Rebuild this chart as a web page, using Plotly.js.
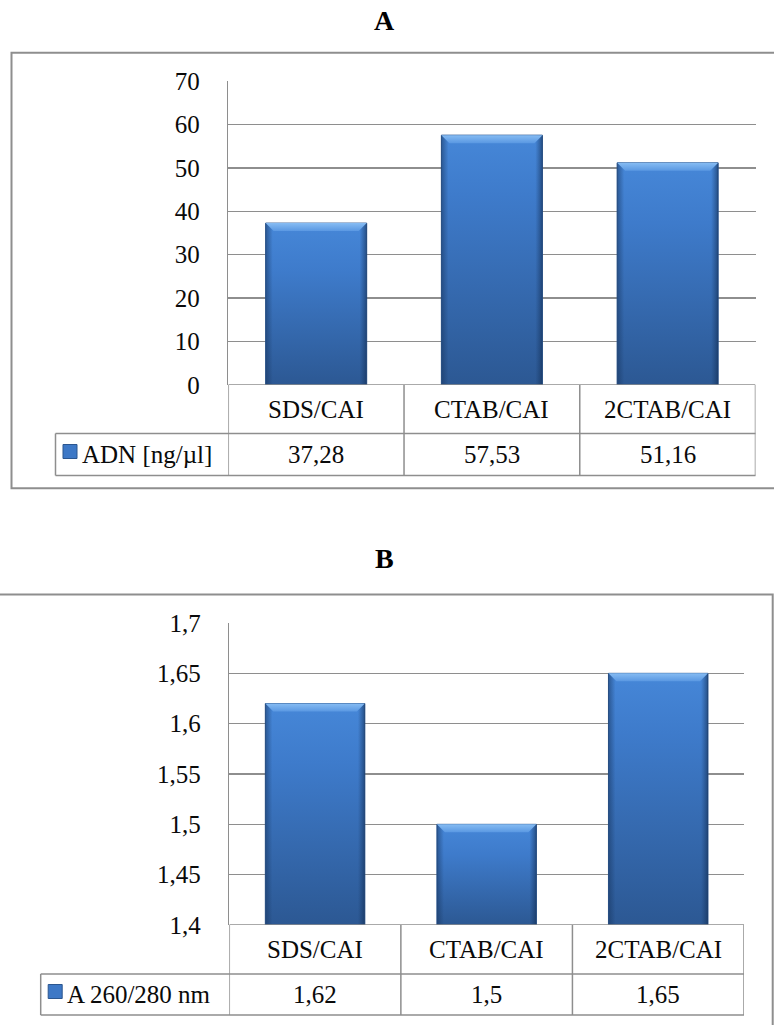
<!DOCTYPE html>
<html>
<head>
<meta charset="utf-8">
<script src="https://cdn.plot.ly/plotly-3.0.1.min.js"></script>
<style>
  html, body { margin: 0; padding: 0; background: #ffffff; }
  #chart { width: 774px; height: 1025px; }
</style>
</head>
<body>
<div id="chart"></div>
<script>
// DNA extraction comparison: yield (A) and purity ratio (B)
const categories = ['SDS/CAI', 'CTAB/CAI', '2CTAB/CAI'];
const dnaConcentration = [37.28, 57.53, 51.16];   // ng/µl
const purityRatio = [1.62, 1.5, 1.65];            // A260/A280
const seriesNameA = 'ADN [ng/µl]';
const seriesNameB = 'A 260/280 nm';
const panelTitles = ['A', 'B'];
const tickValsB = [1.4, 1.45, 1.5, 1.55, 1.6, 1.65, 1.7];
const tickTextB = ['1,4', '1,45', '1,5', '1,55', '1,6', '1,65', '1,7'];

const W = 774, H = 1025;
const X = p => p / W;          // pixel -> paper x
const Y = p => 1 - p / H;      // pixel -> paper y

const FONT = '"Liberation Serif", "Times New Roman", serif';
const INK = '#0a0a0a';
const GRID = '#8e8e8e';
const fmt = v => String(v).replace('.', ',');

// panel geometry (pixels)
const A = { left: 228.3, right: 755.5, top: 81, zero: 385, row: 433.5, bottom: 475.5, legendLeft: 55.5,
            frame: [11.5, 52.7, 790, 488.3], title: 20 };
const B = { left: 229.3, right: 744, top: 623, zero: 925, row: 974, bottom: 1015, legendLeft: 40.7,
            frame: [-10, 594.5, 772.7, 1040], title: 558 };

const barStyle = { color: '#3b74c2', line: { color: '#2b568f', width: 1 } };

const data = [
  { type: 'bar', x: categories, y: dnaConcentration, xaxis: 'x', yaxis: 'y', width: 0.575,
    name: seriesNameA, marker: barStyle, hoverinfo: 'skip', showlegend: false },
  { type: 'bar', x: categories, y: purityRatio, xaxis: 'x2', yaxis: 'y2', width: 0.58,
    name: seriesNameB, marker: barStyle, hoverinfo: 'skip', showlegend: false }
];

function yAxis(p, extra) {
  return Object.assign({
    domain: [Y(p.zero), Y(p.top)],
    showgrid: true, gridcolor: GRID, gridwidth: 1.5,
    zeroline: false, showline: true, linecolor: GRID, linewidth: 1.5,
    ticks: '', ticklabelstandoff: 22,
    tickfont: { family: FONT, size: 25, color: INK },
    fixedrange: true
  }, extra);
}
function xAxis(p, anchor) {
  return {
    domain: [X(p.left), X(p.right)], anchor: anchor, type: 'category',
    range: [-0.5, 2.5], showticklabels: false, showgrid: false,
    zeroline: false, showline: false, ticks: '', fixedrange: true
  };
}

const line = (xref, yref, x0, y0, x1, y1, w) => ({
  type: 'line', xref, yref, x0, y0, x1, y1, layer: 'above',
  line: { color: GRID, width: w || 1.5 }
});

const shapes = [];
const annotations = [];

function panel(p, xref, yref, yMin, values, seriesName) {
  // outer frame
  shapes.push({ type: 'rect', xref: 'paper', yref: 'paper',
    x0: X(p.frame[0]), x1: X(p.frame[2]), y0: Y(p.frame[3]), y1: Y(p.frame[1]),
    line: { color: GRID, width: 2 }, layer: 'below' });
  // data table grid
  shapes.push(line(xref, yref, -0.5, yMin, 2.5, yMin));
  for (let i = 0; i <= categories.length; i++) {
    shapes.push(line(xref, 'paper', i - 0.5, Y(p.zero), i - 0.5, Y(p.bottom)));
  }
  shapes.push(line('paper', 'paper', X(p.legendLeft), Y(p.row), X(p.right), Y(p.row)));
  shapes.push(line('paper', 'paper', X(p.legendLeft), Y(p.bottom), X(p.right), Y(p.bottom)));
  shapes.push(line('paper', 'paper', X(p.legendLeft), Y(p.row), X(p.legendLeft), Y(p.bottom)));
  // legend key swatch
  const mid = (p.row + p.bottom) / 2;
  const sx = p.legendLeft + 7.5;
  shapes.push({ type: 'rect', xref: 'paper', yref: 'paper',
    x0: X(sx), x1: X(sx + 14), y0: Y(mid + 4), y1: Y(mid - 10),
    fillcolor: '#3d78c6', line: { color: '#2b568f', width: 1 }, layer: 'above' });

  const rowMid = (p.zero + p.row) / 2;
  categories.forEach((c, i) => {
    annotations.push({ xref, yref: 'paper', x: c, y: Y(rowMid), text: c, showarrow: false,
      xanchor: 'center', yanchor: 'middle', font: { family: FONT, size: 25, color: INK } });
    annotations.push({ xref, yref: 'paper', x: c, y: Y(mid), text: fmt(values[i]), showarrow: false,
      xanchor: 'center', yanchor: 'middle', font: { family: FONT, size: 25, color: INK } });
  });
  annotations.push({ xref: 'paper', yref: 'paper', x: X(sx + 17), y: Y(mid), text: seriesName,
    showarrow: false, xanchor: 'left', yanchor: 'middle',
    font: { family: FONT, size: 25, color: INK } });
}

panel(A, 'x', 'y', 0, dnaConcentration, seriesNameA);
panel(B, 'x2', 'y2', 1.4, purityRatio, seriesNameB);

[A, B].forEach((p, i) => annotations.push({
  xref: 'paper', yref: 'paper', x: X(384), y: Y(p.title), text: '<b>' + panelTitles[i] + '</b>',
  showarrow: false, xanchor: 'center', yanchor: 'middle',
  font: { family: FONT, size: 28, color: '#000000' }
}));

const layout = {
  width: W, height: H,
  margin: { l: 0, r: 0, t: 0, b: 0, pad: 0 },
  paper_bgcolor: '#ffffff', plot_bgcolor: 'rgba(0,0,0,0)',
  font: { family: FONT, color: INK },
  separators: ', ',
  barmode: 'overlay',
  showlegend: false,
  xaxis: xAxis(A, 'y'),
  yaxis: yAxis(A, { anchor: 'x', range: [0, 70], dtick: 10, tick0: 0 }),
  xaxis2: xAxis(B, 'y2'),
  yaxis2: yAxis(B, { anchor: 'x2', range: [1.4, 1.7], tickmode: 'array',
                     tickvals: tickValsB, ticktext: tickTextB }),
  shapes, annotations
};

// Bevelled, vertically shaded fill for the column faces
function shadeBars(gd) {
  const ns = 'http://www.w3.org/2000/svg';
  const svg = gd.querySelector('svg.main-svg');
  let defs = svg.querySelector('defs');
  if (!defs) { defs = document.createElementNS(ns, 'defs'); svg.insertBefore(defs, svg.firstChild); }
  const fl = gd._fullLayout;
  let n = 0;
  function gradient(attrs, stops) {
    const g = document.createElementNS(ns, 'linearGradient');
    const id = 'barShade' + (n++);
    g.setAttribute('id', id);
    g.setAttribute('gradientUnits', 'userSpaceOnUse');
    Object.keys(attrs).forEach(k => g.setAttribute(k, attrs[k]));
    stops.forEach(s => {
      const st = document.createElementNS(ns, 'stop');
      st.setAttribute('offset', s[0]);
      st.setAttribute('stop-color', s[1]);
      st.setAttribute('stop-opacity', s[2] === undefined ? 1 : s[2]);
      g.appendChild(st);
    });
    defs.appendChild(g);
    return 'url(#' + id + ')';
  }
  gd.querySelectorAll('.barlayer .trace').forEach(tr => {
    const trace = tr.__data__[0].trace;
    const ya = fl['yaxis' + trace.yaxis.slice(1)];
    const limit = ya._length;
    tr.querySelectorAll('.point path').forEach(p => {
      const b = p.getBBox();
      const top = b.y, bottom = Math.min(b.y + b.height, limit), h = Math.max(bottom - top, 1);
      const left = b.x, w = b.width;
      p.style.fill = gradient({ x1: 0, y1: top, x2: 0, y2: bottom }, [
        [0, '#4687d8'], [Math.min(0.3, 60 / h), '#3e7bcb'], [1, '#2c5893']
      ]);
      // darker side edges
      const side = p.cloneNode();
      side.style.fill = gradient({ x1: left, y1: 0, x2: left + w, y2: 0 }, [
        [0, '#17355f', 0.55], [0.07, '#17355f', 0.0], [0.93, '#17355f', 0.0], [1, '#102a4f', 0.6]
      ]);
      side.style.stroke = 'none';
      p.parentNode.insertBefore(side, p.nextSibling);
      // light top bevel
      const bev = 8;
      const cap = document.createElementNS(ns, 'path');
      cap.setAttribute('d', 'M' + left + ',' + top + 'H' + (left + w) + 'L' + (left + w - bev) + ',' + (top + bev) +
        'H' + (left + bev) + 'Z');
      cap.style.fill = gradient({ x1: 0, y1: top, x2: 0, y2: top + bev }, [
        [0, '#86bcf3'], [1, '#5a98e2']
      ]);
      cap.style.stroke = 'none';
      p.parentNode.insertBefore(cap, side.nextSibling);
    });
  });
}

const gd = document.getElementById('chart');
Plotly.newPlot(gd, data, layout, { staticPlot: true, displayModeBar: false }).then(shadeBars);
</script>
</body>
</html>
